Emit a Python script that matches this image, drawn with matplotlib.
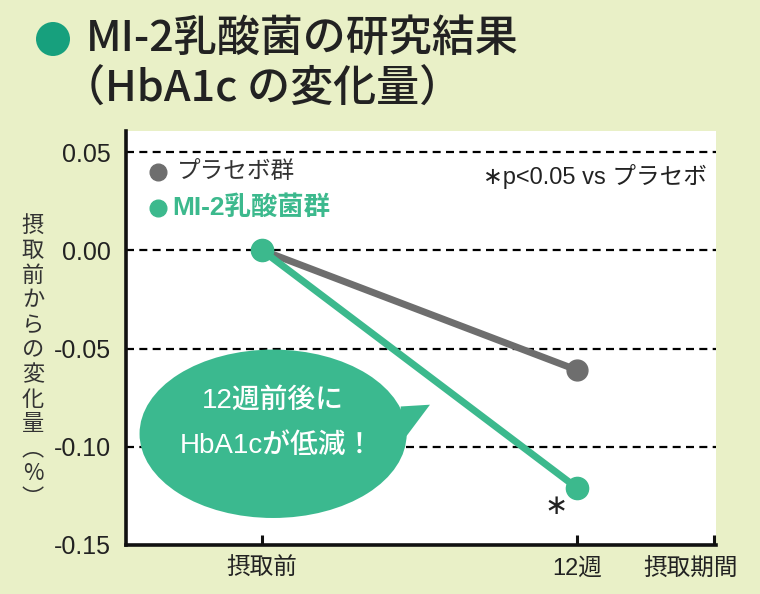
import matplotlib
matplotlib.use('Agg')
import matplotlib.pyplot as plt
from matplotlib.patches import Ellipse, Polygon

# ---- data ----
categories = ['摂取前', '12週']
placebo = [0.0, -0.061]
mi2 = [0.0, -0.121]
series_names = ['プラセボ群', 'MI-2乳酸菌群']
yticks = [0.05, 0.00, -0.05, -0.10, -0.15]
ytick_labels = ['0.05', '0.00', '-0.05', '-0.10', '-0.15']
xaxis_title = '摂取期間'
ylabel = '摂取前からの変化量︵%︶'
title1 = 'MI-2乳酸菌の研究結果'
title2 = '（HbA1c の変化量）'
bubble_lines = ['12週前後に', 'HbA1cが低減！']
sig_note = '∗p<0.05 vs プラセボ'

BG = '#e9f0c7'
GREEN = '#3cb98d'
GRAY = '#6e6e6e'
TEAL = '#17a07d'

plt.rcParams['font.family'] = ['Liberation Sans', 'Noto Sans CJK JP', 'DejaVu Sans']
CJK = ['Noto Sans CJK JP', 'DejaVu Sans']

W, H = 760, 594
fig = plt.figure(figsize=(W / 100, H / 100), dpi=100, facecolor=BG)
ax = fig.add_axes([126 / W, 49 / H, 590 / W, 414 / H])
ax.set_facecolor('white')

x = list(range(len(categories)))
xmax = 1.441
ax.set_xlim(-0.432, xmax)
ax.set_ylim(-0.15, 0.0607)

for y in yticks[:-1]:
    ax.axhline(y, color='black', lw=1.6, ls=(0, (3.6, 2.4)), zorder=1)

# bubble
bub = Ellipse((0.035, -0.0934), 0.848, 0.0857, facecolor='#3bb98f',
              edgecolor='none', zorder=3)
ax.add_patch(bub)
tail = Polygon([(0.440, -0.0795), (0.533, -0.0786), (0.440, -0.0985)],
               closed=True, facecolor='#3bb98f', edgecolor='none', zorder=3)
ax.add_patch(tail)
ax.text(0.035, -0.0765, bubble_lines[0], color='white', fontsize=20,
        ha='center', va='center', zorder=6, weight='medium')
ax.text(0.048, -0.0995, bubble_lines[1], color='white', fontsize=20,
        ha='center', va='center', zorder=6, weight='medium')

# series
ax.plot(x, placebo, color=GRAY, lw=5, marker='o', ms=15, zorder=4)
ax.plot(x, mi2, color=GREEN, lw=5, marker='o', ms=16, zorder=5)

ax.annotate('∗', xy=(x[1], mi2[1]), xytext=(-15, -13), textcoords='offset points',
            ha='center', va='center', fontsize=20, color='#222222', family=CJK)

# spines / ticks
for s in ['top', 'right']:
    ax.spines[s].set_visible(False)
for s in ['left', 'bottom']:
    ax.spines[s].set_linewidth(2.6)
    ax.spines[s].set_color('#111111')

ax.set_yticks(yticks)
ax.set_yticklabels(ytick_labels)
ax.set_xticks(x + [1.435])
ax.set_xticklabels(categories + [''])
ax.tick_params(axis='x', direction='in', length=7, width=2.2, pad=9,
               labelsize=17, colors='#111111', labelcolor='#222222')
ax.tick_params(axis='y', length=0, pad=11, labelsize=18, labelcolor='#222222')
ax.annotate(xaxis_title, xy=(1.36, 0), xycoords=ax.get_xaxis_transform(),
            xytext=(0, -10), textcoords='offset points', ha='center', va='top',
            fontsize=17, color='#222222')

# legend
ax.plot([0.054], [0.901], 'o', ms=12, color=GRAY, transform=ax.transAxes, clip_on=False)
ax.plot([0.054], [0.814], 'o', ms=12, color=GREEN, transform=ax.transAxes, clip_on=False)
ax.text(0.086, 0.901, series_names[0], transform=ax.transAxes, fontsize=17,
        va='center', ha='left', color='#333333')
ax.text(0.078, 0.814, series_names[1], transform=ax.transAxes, fontsize=19,
        va='center', ha='left', color=GREEN, weight='bold')
ax.text(0.985, 0.89, sig_note, transform=ax.transAxes, fontsize=17,
        va='center', ha='right', color='#222222')

# y label (vertical writing)
fig.text(33 / W, 1 - 362 / H, '\n'.join(ylabel), ha='center', va='center',
         fontsize=16, linespacing=1.1, color='#333333', family=CJK)

# title
fig.patches.append(Ellipse((53 / W, 1 - 39 / H), 34 / W, 34 / H, transform=fig.transFigure,
                           facecolor=TEAL, edgecolor='none'))
fig.text(86 / W, 1 - 38 / H, title1, fontsize=31, weight='medium', va='center',
         ha='left', color='#222222', family=CJK)
fig.text(62 / W, 1 - 89 / H, title2, fontsize=31, weight='medium', va='center',
         ha='left', color='#222222', family=CJK)

fig.savefig('out.png', dpi=100, facecolor=BG)
